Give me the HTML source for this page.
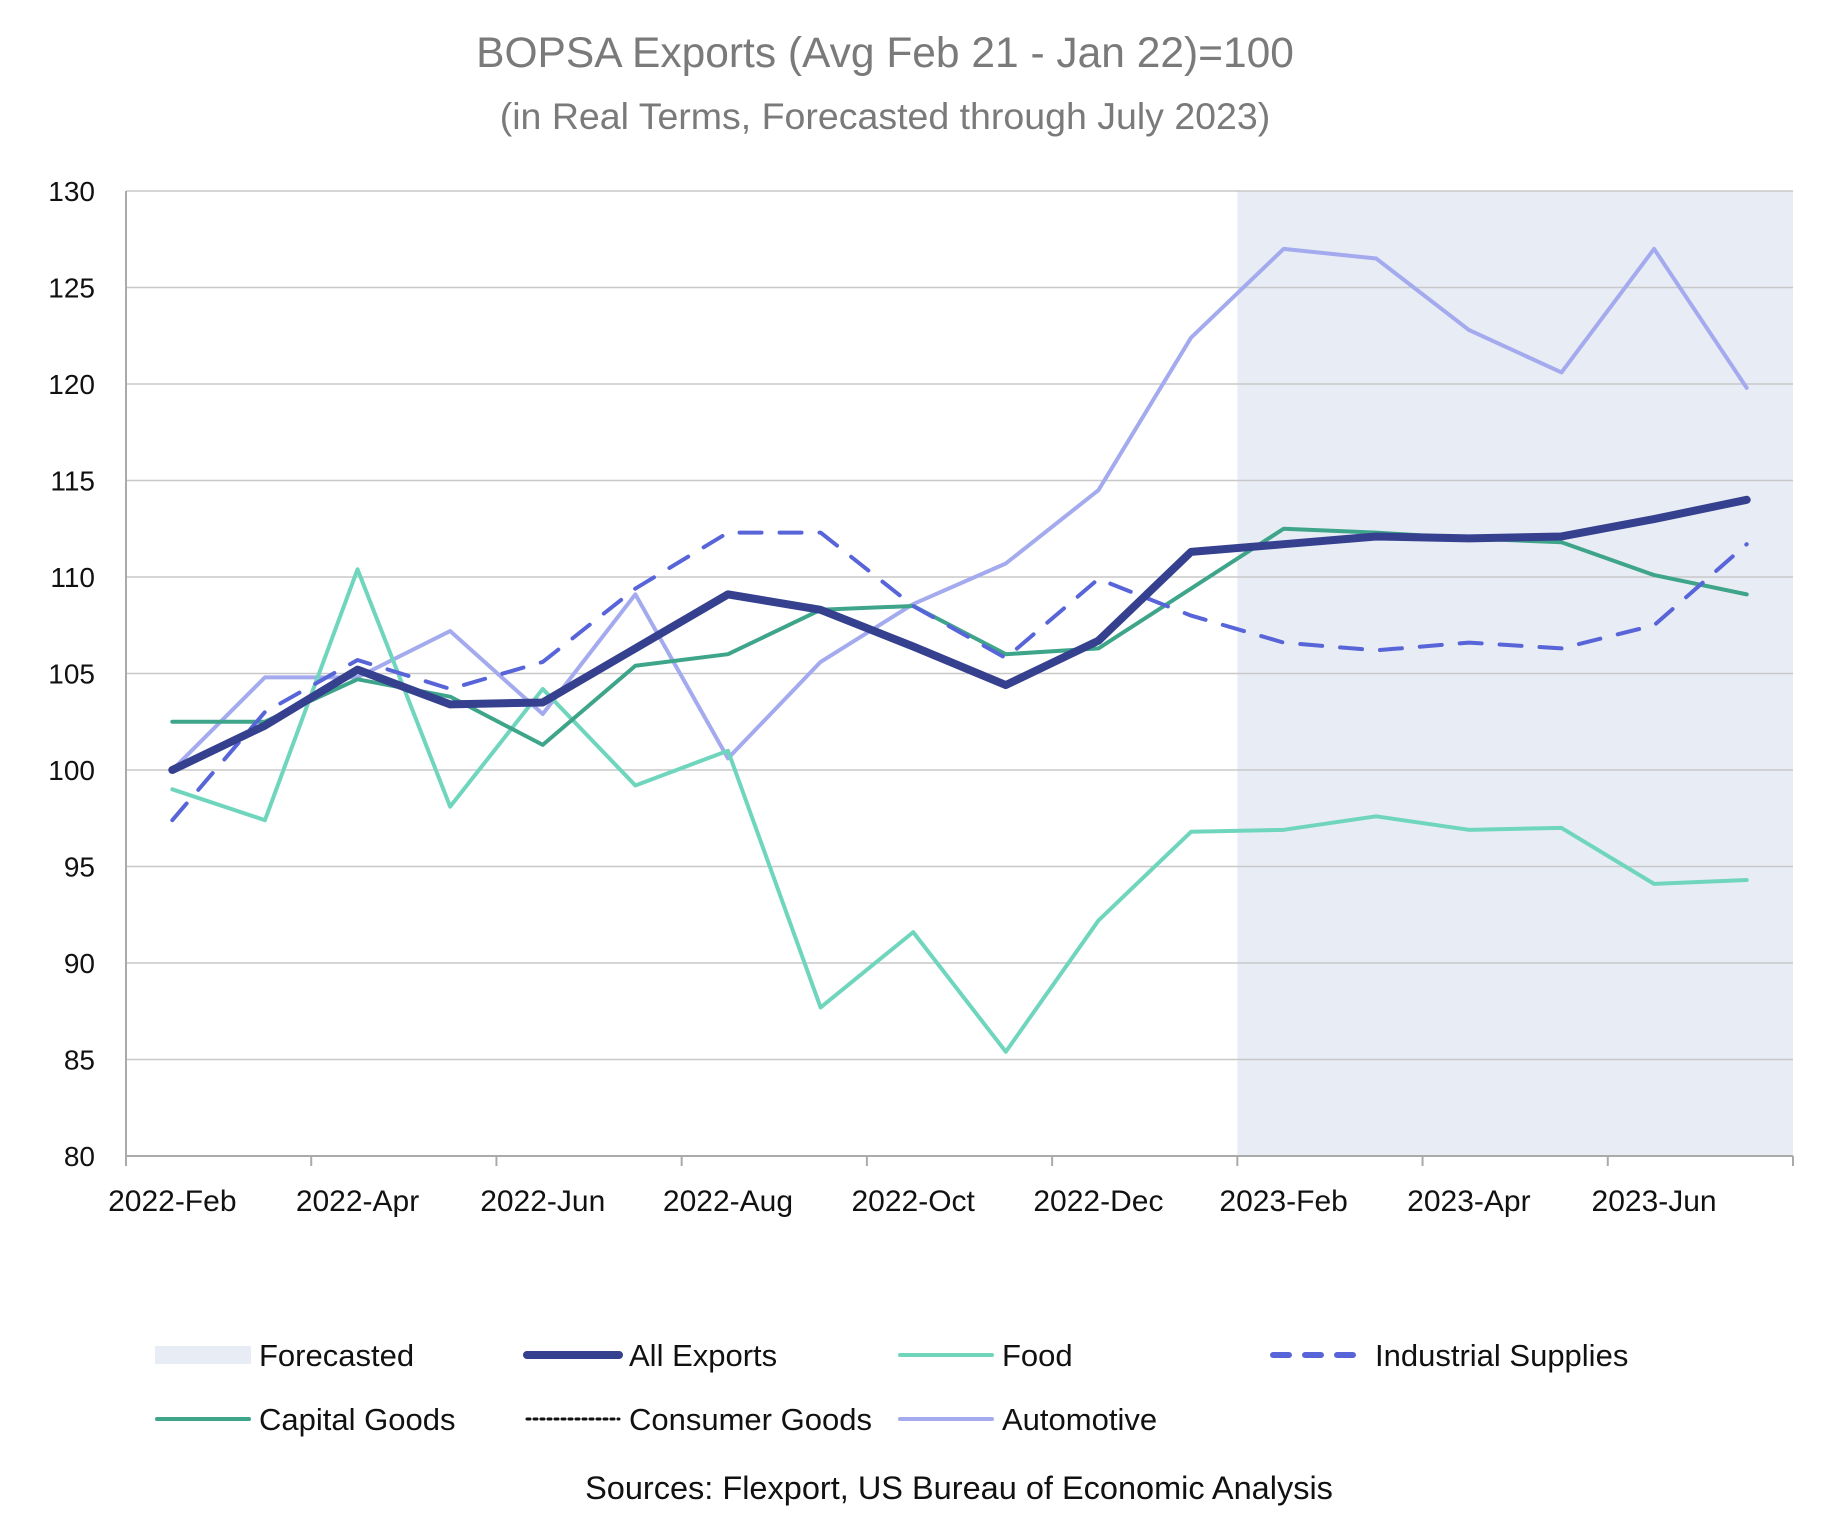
<!DOCTYPE html>
<html><head><meta charset="utf-8"><style>
html,body{margin:0;padding:0;background:#fff;}
svg{display:block;font-family:"Liberation Sans",sans-serif;}
</style></head><body>
<svg id="chart" width="1845" height="1518" viewBox="0 0 1845 1518">
<text x="885" y="67" text-anchor="middle" font-size="42.5" fill="#7a7a7a">BOPSA Exports (Avg Feb 21 - Jan 22)=100</text>
<text x="885" y="129" text-anchor="middle" font-size="37.5" fill="#7a7a7a">(in Real Terms, Forecasted through July 2023)</text>
<g id="plot"></g>
<g id="legend" font-size="31" fill="#111"></g>
<text x="959" y="1499" text-anchor="middle" font-size="32.5" fill="#111">Sources: Flexport, US Bureau of Economic Analysis</text>
</svg>
<script>
const months = ["2022-Feb","2022-Mar","2022-Apr","2022-May","2022-Jun","2022-Jul","2022-Aug","2022-Sep","2022-Oct","2022-Nov","2022-Dec","2023-Jan","2023-Feb","2023-Mar","2023-Apr","2023-May","2023-Jun","2023-Jul"];
const yTicks = [80,85,90,95,100,105,110,115,120,125,130];
const allExports = [100.0,102.3,105.2,103.4,103.5,106.3,109.1,108.3,106.4,104.4,106.7,111.3,111.7,112.1,112.0,112.1,113.0,114.0];
const food = [99.0,97.4,110.4,98.1,104.2,99.2,101.0,87.7,91.6,85.4,92.2,96.8,96.9,97.6,96.9,97.0,94.1,94.3];
const industrial = [97.4,103.0,105.7,104.2,105.6,109.4,112.3,112.3,108.5,105.8,109.9,108.0,106.6,106.2,106.6,106.3,107.5,111.7];
const capital = [102.5,102.5,104.7,103.8,101.3,105.4,106.0,108.3,108.5,106.0,106.3,109.4,112.5,112.3,112.0,111.8,110.1,109.1];
const automotive = [100.0,104.8,104.8,107.2,102.9,109.1,100.6,105.6,108.6,110.7,114.5,122.4,127.0,126.5,122.8,120.6,127.0,119.8];
const forecastStart = 12;

const NS="http://www.w3.org/2000/svg";
const L=126,R=1793,T=191,B=1156;
const bw=(R-L)/months.length;
const x=i=>L+bw*(i+0.5);
const y=v=>B-(v-80)/50*(B-T);
const plot=document.getElementById('plot');
function mk(tag,attrs,parent){const e=document.createElementNS(NS,tag);for(const k in attrs)e.setAttribute(k,attrs[k]);(parent||plot).appendChild(e);return e;}

const fc=mk('rect',{x:L+bw*forecastStart,y:T,width:R-(L+bw*forecastStart),height:B-T,fill:'#e8ecf4'});


yTicks.forEach(v=>{
  const g=mk('line',{x1:L,x2:R,y1:y(v),y2:y(v),stroke:'#c8c8c8','stroke-width':1.5});
  
  
  const t=mk('text',{x:95,y:y(v)+10,'text-anchor':'end','font-size':28,fill:'#111'});
  t.textContent=v;
  
  
});
mk('line',{x1:L,x2:L,y1:T,y2:B,stroke:'#aaa','stroke-width':2});
mk('line',{x1:L,x2:R,y1:B,y2:B,stroke:'#aaa','stroke-width':2});
for(let i=0;i<=months.length;i+=2){
  mk('line',{x1:L+bw*i,x2:L+bw*i,y1:B,y2:B+10,stroke:'#aaa','stroke-width':2});
}
months.forEach((m,i)=>{
  if(i%2)return;
  const t=mk('text',{x:x(i),y:B+55,'text-anchor':'middle','font-size':30,fill:'#111'});
  t.textContent=m;
  
  
});
function series(data,name,color,w,dash){
  const p=mk('polyline',{points:data.map((v,i)=>x(i)+','+y(v)).join(' '),fill:'none',stroke:color,'stroke-width':w,'stroke-linejoin':'round','stroke-linecap':'round'});
  if(dash)p.setAttribute('stroke-dasharray',dash);
  
  
}
series(automotive,'automotive-line','#a4aaee',4);
series(food,'food-line','#6fd6bd',4);
series(capital,'capital-goods-line','#3fa58a',4);
series(industrial,'industrial-supplies-line','#5865d9',4,'22 18');
series(allExports,'all-exports-line','#35408f',8);

const lg=document.getElementById('legend');
const items=[
 [155,1355,'Forecasted','rect'],[525,1355,'All Exports','#35408f',8],[898,1355,'Food','#6fd6bd',4],[1271,1355,'Industrial Supplies','#5865d9',6,'16 16'],
 [155,1419,'Capital Goods','#3fa58a',4],[525,1419,'Consumer Goods','#111',3,'3 4'],[898,1419,'Automotive','#a4aaee',4]];
items.forEach(it=>{
  const g=mk('g',{},lg);
  
  
  if(it[3]==='rect') mk('rect',{x:it[0],y:it[1]-9,width:96,height:18,fill:'#e8ecf4'},g);
  else {const l=mk('line',{x1:it[0]+2,x2:it[0]+94,y1:it[1],y2:it[1],stroke:it[3],'stroke-width':it[4],'stroke-linecap':'round'},g); if(it[5])l.setAttribute('stroke-dasharray',it[5]);}
  const t=mk('text',{x:it[0]+104,y:it[1]+11},g);
  t.textContent=it[2];
});
</script>
</body></html>
